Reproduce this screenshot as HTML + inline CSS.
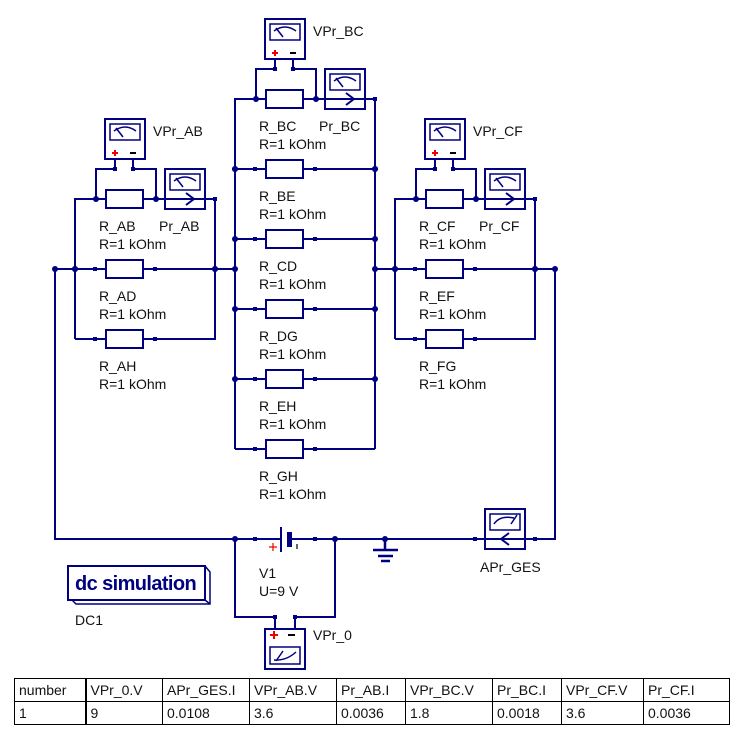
<!DOCTYPE html>
<html><head><meta charset="utf-8"><style>
html,body{margin:0;padding:0;background:#fff;}
body{width:734px;height:742px;position:relative;overflow:hidden;font-family:"Liberation Sans",sans-serif;}
svg{position:absolute;left:0;top:0;}
svg text{font-family:"Liberation Sans",sans-serif;font-size:14px;fill:#111;}
table{position:absolute;left:14px;top:678px;border-collapse:collapse;font-size:14px;color:#111;}
td{border:1px solid #000;height:23px;padding:0 0 0 4px;box-sizing:border-box;white-space:nowrap;}
td.n{border-right:2px solid #000;}
</style></head><body>
<svg width="734" height="742" viewBox="0 0 734 742">
<defs>
<g id="meterTop">
  <rect x="0" y="0" width="40" height="40" fill="#fff" stroke="#000080" stroke-width="2"/>
  <rect x="5" y="5" width="30" height="16" fill="none" stroke="#000080" stroke-width="1.5"/>
  <path d="M9 12 Q20 4 31 12" fill="none" stroke="#000080" stroke-width="1.5"/>
  <path d="M11 9 L18 18" fill="none" stroke="#000080" stroke-width="1.5"/>
</g>
<g id="vpr">
  <use href="#meterTop"/>
  <path d="M7 34 h6 M10 31 v6" stroke="#e00" stroke-width="2"/>
  <path d="M25 34 h6" stroke="#000" stroke-width="2"/>
</g>
<g id="group">
  <path d="M75 339 V199 H165 M205 199 H215 V339 H75 M75 269 H215" fill="none" stroke="#000080" stroke-width="2"/>
  <path d="M115 159 V169 H96 V199 M133 159 V169 H156 V199" fill="none" stroke="#000080" stroke-width="2"/>
  <rect x="106" y="190" width="37" height="18" fill="#fff" stroke="#000080" stroke-width="2"/>
  <rect x="106" y="260" width="37" height="18" fill="#fff" stroke="#000080" stroke-width="2"/>
  <rect x="106" y="330" width="37" height="18" fill="#fff" stroke="#000080" stroke-width="2"/>
  <g transform="translate(165,169)"><use href="#meterTop"/></g>
  <path d="M165 199 H205" stroke="#000080" stroke-width="2"/>
  <path d="M186 193 L194 199 L186 205" fill="none" stroke="#000080" stroke-width="2"/>
  <g transform="translate(105,119)"><use href="#vpr"/></g>
  <circle cx="96" cy="199" r="3" fill="#000080"/><circle cx="156" cy="199" r="3" fill="#000080"/>
  <circle cx="75" cy="269" r="3" fill="#000080"/><circle cx="215" cy="269" r="3" fill="#000080"/>
  <rect x="213" y="197" width="4" height="4" fill="#000080"/>
  <rect x="113" y="167" width="4" height="4" fill="#000080"/><rect x="131" y="167" width="4" height="4" fill="#000080"/>
  <rect x="93" y="267" width="4" height="4" fill="#000080"/><rect x="153" y="267" width="4" height="4" fill="#000080"/>
  <rect x="93" y="337" width="4" height="4" fill="#000080"/><rect x="153" y="337" width="4" height="4" fill="#000080"/>
</g>
<g id="res">
  <path d="M0 0 H140" stroke="#000080" stroke-width="2"/>
  <rect x="31" y="-9" width="37" height="18" fill="#fff" stroke="#000080" stroke-width="2"/>
  <rect x="18" y="-2" width="4" height="4" fill="#000080"/><rect x="78" y="-2" width="4" height="4" fill="#000080"/>
</g>
</defs>

<path d="M55 269 H235 M375 269 H555 M55 269 V539 H475 M535 539 H555 V269" fill="none" stroke="#000080" stroke-width="2"/>

<use href="#group"/>
<use href="#group" transform="translate(320,0)"/>
<use href="#group" transform="translate(160,-100)"/>
<!-- center verticals + extra rows -->
<path d="M235 99 V449 M375 99 V449" fill="none" stroke="#000080" stroke-width="2"/>
<g transform="translate(235,309)"><use href="#res"/></g>
<g transform="translate(235,379)"><use href="#res"/></g>
<g transform="translate(235,449)"><use href="#res"/></g>
<circle cx="235" cy="169" r="3" fill="#000080"/><circle cx="375" cy="169" r="3" fill="#000080"/>
<circle cx="235" cy="239" r="3" fill="#000080"/><circle cx="375" cy="239" r="3" fill="#000080"/>
<circle cx="235" cy="309" r="3" fill="#000080"/><circle cx="375" cy="309" r="3" fill="#000080"/>
<circle cx="235" cy="379" r="3" fill="#000080"/><circle cx="375" cy="379" r="3" fill="#000080"/>
<circle cx="235" cy="269" r="3" fill="#000080"/><circle cx="375" cy="269" r="3" fill="#000080"/>
<circle cx="395" cy="269" r="3" fill="#000080"/><circle cx="535" cy="269" r="3" fill="#000080"/>
<circle cx="75" cy="269" r="3" fill="#000080"/><circle cx="215" cy="269" r="3" fill="#000080"/>
<circle cx="55" cy="269" r="3" fill="#000080"/><circle cx="555" cy="269" r="3" fill="#000080"/>

<!-- battery row -->
<rect x="260" y="526" width="50" height="28" fill="#fff"/>
<path d="M235 539 H280 M292 539 H335" stroke="#000080" stroke-width="2"/>
<path d="M281 527 V552" stroke="#000080" stroke-width="2"/>
<rect x="287" y="532" width="5" height="15" fill="#000080"/>
<path d="M269 547 h8 M273 543 v8" stroke="#e00" stroke-width="1.2"/>
<path d="M297 544 v5" stroke="#000" stroke-width="1.2"/>
<rect x="253" y="537" width="4" height="4" fill="#000080"/><rect x="313" y="537" width="4" height="4" fill="#000080"/>
<circle cx="235" cy="539" r="3" fill="#000080"/><circle cx="335" cy="539" r="3" fill="#000080"/>
<circle cx="385" cy="539" r="3" fill="#000080"/>
<path d="M385 539 V549 M373 550 H398 M378 556 H393 M381 561 H390" stroke="#000080" stroke-width="2.5"/>
<rect x="485" y="509" width="40" height="40" fill="#fff" stroke="#000080" stroke-width="2"/>
<rect x="490" y="514" width="30" height="16" fill="none" stroke="#000080" stroke-width="1.5"/>
<path d="M494 524 Q500 515 514 518 M517 515 L511 524" fill="none" stroke="#000080" stroke-width="1.5"/>
<path d="M475 539 H535" stroke="#000080" stroke-width="2"/>
<path d="M509 533 L501 539 L509 545" fill="none" stroke="#000080" stroke-width="2"/>
<rect x="473" y="537" width="4" height="4" fill="#000080"/><rect x="533" y="537" width="4" height="4" fill="#000080"/>
<path d="M235 539 V617 H275 V629 M335 539 V617 H295 V629" fill="none" stroke="#000080" stroke-width="2"/>
<rect x="273" y="615" width="4" height="4" fill="#000080"/><rect x="293" y="615" width="4" height="4" fill="#000080"/>
<rect x="265" y="629" width="40" height="40" fill="#fff" stroke="#000080" stroke-width="2"/>
<path d="M270 635 h8 M274 631 v8" stroke="#e00" stroke-width="2"/>
<path d="M288 635 h7" stroke="#000" stroke-width="2"/>
<rect x="270" y="647" width="30" height="17" fill="none" stroke="#000080" stroke-width="1.5"/>
<path d="M274 660 Q286 661 296 652 M276 661 L283 651" fill="none" stroke="#000080" stroke-width="1.5"/>

<path d="M72 600 L76 604 H210 V572 L205 566" fill="none" stroke="#000080" stroke-width="1.5"/>
<path d="M205 600 L210 604" stroke="#000080" stroke-width="1.5"/>
<rect x="68" y="566" width="137" height="34" fill="#fff" stroke="#000080" stroke-width="2"/>
<text x="75" y="590" style="font-size:20px;font-weight:bold;fill:#000080;letter-spacing:-0.6px">dc simulation</text>
<text x="75" y="625">DC1</text>

<text x="153" y="136">VPr_AB</text>
<text x="99" y="231">R_AB</text><text x="159" y="231">Pr_AB</text><text x="99" y="249">R=1 kOhm</text>
<text x="99" y="301">R_AD</text><text x="99" y="319">R=1 kOhm</text>
<text x="99" y="371">R_AH</text><text x="99" y="389">R=1 kOhm</text>
<text x="313" y="36">VPr_BC</text>
<text x="259" y="131">R_BC</text><text x="319" y="131">Pr_BC</text><text x="259" y="149">R=1 kOhm</text>
<text x="259" y="201">R_BE</text><text x="259" y="219">R=1 kOhm</text>
<text x="259" y="271">R_CD</text><text x="259" y="289">R=1 kOhm</text>
<text x="259" y="341">R_DG</text><text x="259" y="359">R=1 kOhm</text>
<text x="259" y="411">R_EH</text><text x="259" y="429">R=1 kOhm</text>
<text x="259" y="481">R_GH</text><text x="259" y="499">R=1 kOhm</text>
<text x="473" y="136">VPr_CF</text>
<text x="419" y="231">R_CF</text><text x="479" y="231">Pr_CF</text><text x="419" y="249">R=1 kOhm</text>
<text x="419" y="301">R_EF</text><text x="419" y="319">R=1 kOhm</text>
<text x="419" y="371">R_FG</text><text x="419" y="389">R=1 kOhm</text>
<text x="259" y="578">V1</text><text x="259" y="596">U=9 V</text>
<text x="480" y="572">APr_GES</text>
<text x="313" y="640">VPr_0</text>
</svg>
<table>
<tr><td class="n" style="width:71px">number</td><td style="width:77px">VPr_0.V</td><td style="width:87px">APr_GES.I</td><td style="width:87px">VPr_AB.V</td><td style="width:69px">Pr_AB.I</td><td style="width:87px">VPr_BC.V</td><td style="width:69px">Pr_BC.I</td><td style="width:82px">VPr_CF.V</td><td style="width:86px">Pr_CF.I</td></tr>
<tr><td class="n">1</td><td>9</td><td>0.0108</td><td>3.6</td><td>0.0036</td><td>1.8</td><td>0.0018</td><td>3.6</td><td>0.0036</td></tr>
</table>
</body></html>
